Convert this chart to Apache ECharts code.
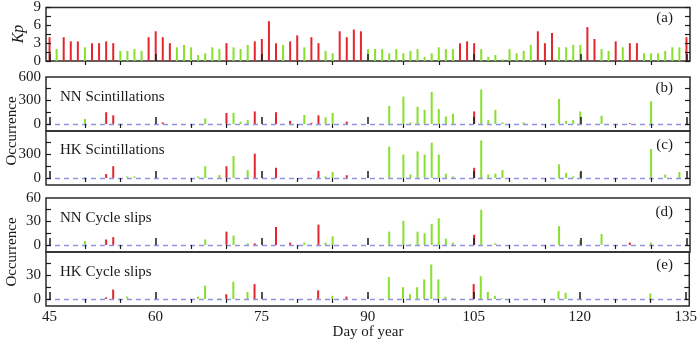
<!DOCTYPE html>
<html>
<head>
<meta charset="utf-8">
<script src="https://cdn.jsdelivr.net/npm/echarts@6/dist/echarts.min.js"></script>
<style>
  html, body { margin: 0; padding: 0; background: #fff; }
  #chart { width: 700px; height: 343px; }
</style>
</head>
<body>
<div id="chart"></div>
<script>
// day 45 .. 135, one value per day
const firstDay = 45;

const kp = [
  4.0, 2.0, 4.0, 3.3, 3.3, 2.3, 3.0, 3.0, 3.3, 3.0,   // 45-54
  1.7, 1.7, 2.0, 1.7, 4.0, 5.0, 4.0, 3.0, 2.3, 2.7,   // 55-64
  2.3, 1.0, 1.3, 2.3, 2.0, 3.0, 2.3, 2.0, 2.7, 3.3,   // 65-74
  3.7, 6.7, 3.0, 2.7, 3.3, 4.3, 2.3, 4.0, 3.0, 1.7,   // 75-84
  1.3, 5.0, 4.0, 5.3, 5.0, 2.0, 2.0, 2.0, 1.3, 2.0,   // 85-94
  1.3, 1.7, 2.0, 0.7, 1.3, 2.3, 2.0, 2.0, 3.0, 3.3,   // 95-104
  3.0, 2.0, 0.7, 1.0, 0.3, 2.0, 1.3, 1.7, 2.7, 5.0,   // 105-114
  3.0, 4.7, 2.3, 2.3, 2.7, 2.7, 5.7, 3.7, 2.0, 1.7,   // 115-124
  3.3, 2.3, 3.0, 3.0, 1.3, 1.3, 1.3, 1.7, 2.3, 2.3,   // 125-134
  4.0                                                 // 135
];

const nnScint = [
  0, 0, 0, 0, 0, 65, 0, 0, 150, 110,
  0, 0, 0, 0, 0, 0, 20, 0, 0, 0,
  0, 0, 70, 0, 0, 140, 140, 30, 50, 160,
  0, 0, 150, 0, 40, 0, 115, 15, 110, 85,
  140, 0, 30, 0, 0, 0, 0, 0, 230, 0,
  350, 20, 220, 180, 410, 190, 95, 130, 0, 0,
  160, 440, 50, 180, 20, 0, 0, 20, 0, 0,
  0, 0, 320, 40, 50, 160, 0, 0, 105, 0,
  0, 0, 10, 0, 0, 290, 0, 0, 0, 0,
  0
];

const hkScint = [
  0, 0, 0, 0, 0, 10, 0, 0, 50, 150,
  0, 20, 20, 0, 0, 0, 0, 0, 0, 0,
  0, 20, 150, 0, 40, 150, 280, 0, 100, 310,
  0, 0, 130, 0, 0, 0, 0, 0, 90, 20,
  75, 0, 35, 0, 0, 0, 0, 0, 400, 0,
  300, 45, 340, 300, 450, 300, 55, 20, 0, 0,
  130, 480, 45, 55, 100, 0, 0, 0, 0, 0,
  0, 0, 175, 65, 20, 75, 0, 0, 0, 0,
  0, 0, 0, 0, 0, 370, 0, 45, 0, 75,
  0
];

const nnSlips = [
  0, 0, 0, 0, 0, 5, 0, 0, 7, 10,
  0, 0, 0, 0, 0, 0, 0, 0, 0, 0,
  0, 0, 7, 0, 0, 17, 12, 0, 2, 2,
  0, 0, 23, 0, 3, 0, 3, 0, 26, 3,
  11, 0, 0, 0, 0, 0, 0, 0, 17, 0,
  31, 1, 17, 15, 27, 34, 8, 3, 0, 0,
  13, 45, 0, 2, 0, 0, 0, 0, 0, 0,
  0, 0, 24, 0, 0, 6, 0, 0, 14, 0,
  0, 0, 3, 0, 0, 3, 0, 0, 0, 0,
  0
];

const hkSlips = [
  0, 0, 0, 0, 0, 0, 0, 0, 2, 12,
  0, 3, 0, 0, 0, 0, 0, 0, 0, 0,
  0, 3, 17, 0, 1, 6, 22, 0, 9, 19,
  0, 0, 0, 0, 0, 0, 0, 0, 11, 0,
  4, 0, 3, 0, 0, 0, 0, 0, 28, 0,
  15, 6, 15, 25, 44, 25, 3, 1, 0, 0,
  19, 29, 9, 4, 1, 0, 0, 0, 0, 0,
  0, 0, 10, 8, 0, 0, 0, 0, 0, 0,
  0, 0, 0, 0, 0, 7, 0, 0, 0, 0,
  0
];

const majorDays = [45, 60, 75, 90, 105, 120, 135];
const minorDays = [50, 55, 65, 70, 80, 85, 95, 100, 110, 115, 125, 130];

const RED = '#e3262d';
const GREEN = '#86e02c';
const INK = '#1a1a1a';
const FONT = '"Liberation Serif", "Times New Roman", serif';

const panels = [
  { values: kp,      min: 0,   max: 9,   labels: [0, 3, 6, 9],   ticks: [0, 1.5, 3, 4.5, 6, 7.5, 9], top: 7,   tag: '(a)', title: '',                  tagY: 18 },
  { values: nnScint, min: -90, max: 600, labels: [0, 300, 600],  ticks: [0, 150, 300, 450],          top: 77,  tag: '(b)', title: 'NN Scintillations', tagY: 88,  titleY: 97 },
  { values: hkScint, min: -90, max: 600, labels: [0, 300],       ticks: [0, 150, 300, 450],          top: 131, tag: '(c)', title: 'HK Scintillations', tagY: 145, titleY: 150 },
  { values: nnSlips, min: -9,  max: 60,  labels: [0, 30, 60],    ticks: [0, 15, 30, 45],             top: 198, tag: '(d)', title: 'NN Cycle slips',    tagY: 212, titleY: 218 },
  { values: hkSlips, min: -9,  max: 60,  labels: [0, 30],        ticks: [0, 15, 30, 45],             top: 252, tag: '(e)', title: 'HK Cycle slips',    tagY: 265, titleY: 272 }
];

function toPairs(arr) {
  return arr.map((v, i) => [firstDay + i, v]).filter(p => p[1] > 0);
}

function barColor(p) {
  return kp[p.data[0] - firstDay] >= 3 ? RED : GREEN;
}

const grid = [], xAxis = [], yAxis = [], series = [], graphic = [];

panels.forEach((p, g) => {
  const last = g === panels.length - 1;
  grid.push({
    left: 46, right: 10, top: p.top, height: 54,
    show: true, borderColor: '#2b2b2b', borderWidth: 1.5, backgroundColor: 'transparent'
  });
  // major day ticks (and labels on the bottom panel)
  xAxis.push({
    type: 'value', gridIndex: g, min: 44.5, max: 135.5, z: 5,
    axisLine: { show: false }, splitLine: { show: false },
    axisTick: { show: true, inside: true, length: 7, customValues: majorDays, lineStyle: { color: INK, width: 1.5 } },
    axisLabel: { show: last, customValues: majorDays, margin: 4, fontFamily: FONT, fontSize: 15, color: INK }
  });
  // minor day ticks
  xAxis.push({
    type: 'value', gridIndex: g, min: 44.5, max: 135.5, z: 5,
    axisLine: { show: false }, splitLine: { show: false },
    axisTick: { show: true, inside: true, length: 4, customValues: minorDays, lineStyle: { color: INK, width: 1.2 } },
    axisLabel: { show: false }
  });
  yAxis.push({
    type: 'value', gridIndex: g, min: p.min, max: p.max, position: 'left', z: 5,
    axisLine: { show: false }, splitLine: { show: false },
    axisTick: { show: true, inside: true, length: 5, customValues: p.ticks, lineStyle: { color: INK, width: 1.2 } },
    axisLabel: { customValues: p.labels, margin: 5, fontFamily: FONT, fontSize: 15, color: INK }
  });
  yAxis.push({
    type: 'value', gridIndex: g, min: p.min, max: p.max, position: 'right', z: 5,
    axisLine: { show: false }, splitLine: { show: false },
    axisTick: { show: true, inside: true, length: 5, customValues: p.ticks, lineStyle: { color: INK, width: 1.2 } },
    axisLabel: { show: false }
  });

  const s = {
    type: 'bar', xAxisIndex: 2 * g, yAxisIndex: 2 * g,
    data: toPairs(p.values), barWidth: 2, itemStyle: { color: barColor }
  };
  if (g > 0) {
    s.markLine = {
      silent: true, symbol: ['none', 'none'], label: { show: false },
      lineStyle: { color: '#9393e6', type: [5, 4], width: 1.3 },
      data: [{ yAxis: 0 }]
    };
  }
  series.push(s);

  graphic.push({
    type: 'text', x: 673, y: p.tagY,
    style: { text: p.tag, font: '15px ' + FONT, fill: INK, textAlign: 'right', textVerticalAlign: 'middle' }
  });
  if (p.title) {
    graphic.push({
      type: 'text', x: 60, y: p.titleY,
      style: { text: p.title, font: '15px ' + FONT, fill: INK, textAlign: 'left', textVerticalAlign: 'middle' }
    });
  }
});

graphic.push(
  { type: 'text', x: 19, y: 34, rotation: Math.PI / 2,
    style: { text: 'Kp', font: 'italic 16px ' + FONT, fill: INK, textAlign: 'center', textVerticalAlign: 'middle' } },
  { type: 'text', x: 12, y: 131, rotation: Math.PI / 2,
    style: { text: 'Occurrence', font: '15px ' + FONT, fill: INK, textAlign: 'center', textVerticalAlign: 'middle' } },
  { type: 'text', x: 12, y: 252, rotation: Math.PI / 2,
    style: { text: 'Occurrence', font: '15px ' + FONT, fill: INK, textAlign: 'center', textVerticalAlign: 'middle' } },
  { type: 'text', x: 368, y: 332,
    style: { text: 'Day of year', font: '15px ' + FONT, fill: INK, textAlign: 'center', textVerticalAlign: 'middle' } }
);

const chart = echarts.init(document.getElementById('chart'), null, { renderer: 'canvas' });
chart.setOption({
  animation: false,
  backgroundColor: '#fff',
  grid: grid,
  xAxis: xAxis,
  yAxis: yAxis,
  series: series,
  graphic: graphic
});
</script>
</body>
</html>
